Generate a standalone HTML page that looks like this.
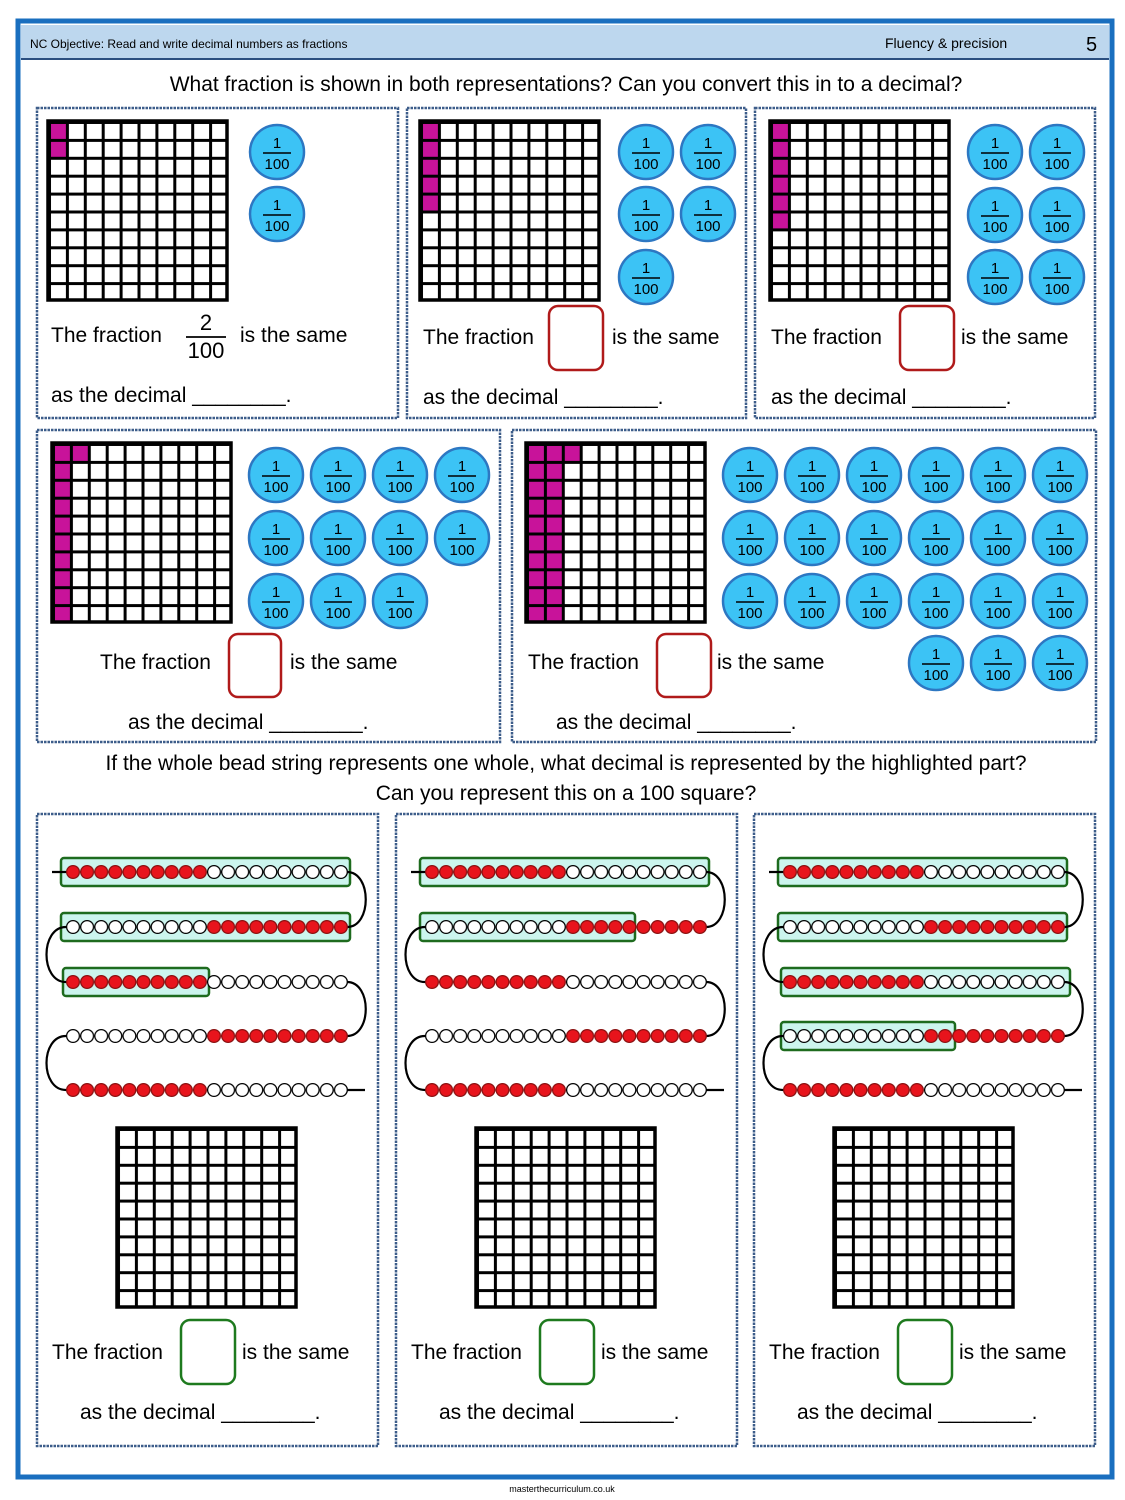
<!DOCTYPE html>
<html><head><meta charset="utf-8"><style>
html,body{margin:0;padding:0;background:#fff}
svg{display:block}
text{font-family:"Liberation Sans",sans-serif}
</style></head><body>
<svg width="1125" height="1500" viewBox="0 0 1125 1500" xmlns="http://www.w3.org/2000/svg">
<defs>
<pattern id="gp" width="17.9" height="17.9" patternUnits="userSpaceOnUse"><path d="M0 0H17.9M0 0V17.9" stroke="#000" stroke-width="6" fill="none"/></pattern>
<pattern id="rb" width="14.1" height="20" patternUnits="userSpaceOnUse" y="-10"><circle cx="7" cy="10" r="6.4" fill="#e8141c" stroke="#8a1010" stroke-width="1.3"/></pattern>
<pattern id="wb" width="14.1" height="20" patternUnits="userSpaceOnUse" y="-10"><circle cx="7" cy="10" r="6.4" fill="#fff" stroke="#000" stroke-width="1.3"/></pattern>
<g id="c"><circle r="27" fill="#3cc3f5" stroke="#2d77c2" stroke-width="2.5"/><text y="-4" font-size="15" text-anchor="middle">1</text><line x1="-14" x2="14" y1="1" y2="1" stroke="#000" stroke-width="1.6"/><text y="17" font-size="15" text-anchor="middle">100</text></g>
<g id="grid"><rect width="179" height="179" fill="url(#gp)"/><rect width="179" height="179" fill="none" stroke="#000" stroke-width="3.5"/></g>
</defs>
<rect x="18" y="21" width="1094" height="1456" fill="none" stroke="#1a6fbf" stroke-width="5"/>
<rect x="21" y="25" width="1088" height="34" fill="#bdd7ee"/>
<line x1="21" y1="59" x2="1109" y2="59" stroke="#2b4f80" stroke-width="2"/>
<text x="30" y="48" font-size="12">NC Objective: Read and write decimal numbers as fractions</text>
<text x="885" y="48" font-size="14">Fluency &amp; precision</text>
<text x="1086" y="51" font-size="20">5</text>
<text x="566" y="91" font-size="21" text-anchor="middle">What fraction is shown in both representations? Can you convert this in to a decimal?</text>
<g fill="none" stroke="#3d5d8a" stroke-width="2.5" stroke-dasharray="2.5 1">
<rect x="37" y="108" width="361" height="310"/><rect x="407" y="108" width="339" height="310"/><rect x="755" y="108" width="340" height="310"/>
<rect x="37" y="430" width="463" height="312"/><rect x="512" y="430" width="584" height="312"/>
<rect x="37" y="814" width="341" height="632"/><rect x="396" y="814" width="341" height="632"/><rect x="754" y="814" width="341" height="632"/>
</g>
<g fill="#c8139a">
<rect x="48" y="121" width="18" height="36"/>
<rect x="420" y="121" width="18" height="90"/>
<rect x="770" y="121" width="18" height="108"/>
<rect x="52" y="443" width="18" height="179"/><rect x="70" y="443" width="18" height="18"/>
<rect x="526" y="443" width="36" height="179"/><rect x="562" y="443" width="18" height="18"/>
</g>
<use href="#grid" x="48" y="121"/><use href="#grid" x="420" y="121"/><use href="#grid" x="770" y="121"/>
<use href="#grid" x="52" y="443"/><use href="#grid" x="526" y="443"/>
<use href="#grid" x="117" y="1128"/><use href="#grid" x="476" y="1128"/><use href="#grid" x="834" y="1128"/>
<use href="#c" x="277" y="152"/><use href="#c" x="277" y="214"/>
<use href="#c" x="646" y="152"/><use href="#c" x="708" y="152"/><use href="#c" x="646" y="214"/><use href="#c" x="708" y="214"/><use href="#c" x="646" y="277"/>
<use href="#c" x="995" y="152"/><use href="#c" x="1057" y="152"/><use href="#c" x="995" y="215"/><use href="#c" x="1057" y="215"/><use href="#c" x="995" y="277"/><use href="#c" x="1057" y="277"/>
<use href="#c" x="276" y="475"/><use href="#c" x="338" y="475"/><use href="#c" x="400" y="475"/><use href="#c" x="462" y="475"/>
<use href="#c" x="276" y="538"/><use href="#c" x="338" y="538"/><use href="#c" x="400" y="538"/><use href="#c" x="462" y="538"/>
<use href="#c" x="276" y="601"/><use href="#c" x="338" y="601"/><use href="#c" x="400" y="601"/>
<use href="#c" x="750" y="475"/><use href="#c" x="812" y="475"/><use href="#c" x="874" y="475"/><use href="#c" x="936" y="475"/><use href="#c" x="998" y="475"/><use href="#c" x="1060" y="475"/>
<use href="#c" x="750" y="538"/><use href="#c" x="812" y="538"/><use href="#c" x="874" y="538"/><use href="#c" x="936" y="538"/><use href="#c" x="998" y="538"/><use href="#c" x="1060" y="538"/>
<use href="#c" x="750" y="601"/><use href="#c" x="812" y="601"/><use href="#c" x="874" y="601"/><use href="#c" x="936" y="601"/><use href="#c" x="998" y="601"/><use href="#c" x="1060" y="601"/>
<use href="#c" x="936" y="663"/><use href="#c" x="998" y="663"/><use href="#c" x="1060" y="663"/>
<g font-size="21">
<text x="51" y="342">The fraction</text><text x="206" y="330" font-size="22" text-anchor="middle">2</text><line x1="186" x2="226" y1="337" y2="337" stroke="#000" stroke-width="1.8"/><text x="206" y="358" font-size="22" text-anchor="middle">100</text><text x="240" y="342">is the same</text>
<text x="51" y="402">as the decimal ________.</text>
<text x="423" y="344">The fraction</text><text x="612" y="344">is the same</text><text x="423" y="404">as the decimal ________.</text>
<text x="771" y="344">The fraction</text><text x="961" y="344">is the same</text><text x="771" y="404">as the decimal ________.</text>
<text x="100" y="669">The fraction</text><text x="290" y="669">is the same</text><text x="128" y="729">as the decimal ________.</text>
<text x="528" y="669">The fraction</text><text x="717" y="669">is the same</text><text x="556" y="729">as the decimal ________.</text>
<text x="566" y="770" text-anchor="middle">If the whole bead string represents one whole, what decimal is represented by the highlighted part?</text>
<text x="566" y="800" text-anchor="middle">Can you represent this on a 100 square?</text>
<text x="52" y="1359">The fraction</text><text x="242" y="1359">is the same</text><text x="80" y="1419">as the decimal ________.</text>
<text x="411" y="1359">The fraction</text><text x="601" y="1359">is the same</text><text x="439" y="1419">as the decimal ________.</text>
<text x="769" y="1359">The fraction</text><text x="959" y="1359">is the same</text><text x="797" y="1419">as the decimal ________.</text>
</g>
<g fill="none" stroke="#b01a1a" stroke-width="2.5">
<rect x="549" y="306" width="54" height="64" rx="9"/><rect x="900" y="306" width="54" height="64" rx="9"/>
<rect x="229" y="634" width="52" height="63" rx="9"/><rect x="657" y="634" width="54" height="63" rx="9"/>
</g>
<g fill="none" stroke="#1e7a1e" stroke-width="2.5">
<rect x="181" y="1320" width="54" height="64" rx="9"/><rect x="540" y="1320" width="54" height="64" rx="9"/><rect x="898" y="1320" width="54" height="64" rx="9"/>
</g>
<g fill="#ccf5ee" stroke="#1e6b1e" stroke-width="2.5">
<rect x="61" y="858" width="289" height="28" rx="3"/><rect x="61" y="913" width="289" height="28" rx="3"/><rect x="63" y="968" width="146" height="28" rx="3"/>
<rect x="420" y="858" width="289" height="28" rx="3"/><rect x="420" y="913" width="215" height="28" rx="3"/>
<rect x="778" y="858" width="289" height="28" rx="3"/><rect x="778" y="913" width="289" height="28" rx="3"/><rect x="781" y="968" width="289" height="28" rx="3"/><rect x="781" y="1022" width="174" height="28" rx="3"/>
</g>
<g fill="none" stroke="#000" stroke-width="2.2">
<path d="M52 872H66M347 872C372 872 372 927 347 927M66 927C40 927 40 982 66 982M347 982C372 982 372 1036 347 1036M66 1036C40 1036 40 1090 66 1090M347 1090H365"/>
<path d="M411 872H425M706 872C731 872 731 927 706 927M425 927C399 927 399 982 425 982M706 982C731 982 731 1036 706 1036M425 1036C399 1036 399 1090 425 1090M706 1090H724"/>
<path d="M769 872H783M1064 872C1089 872 1089 927 1064 927M783 927C757 927 757 982 783 982M1064 982C1089 982 1089 1036 1064 1036M783 1036C757 1036 757 1090 783 1090M1064 1090H1082"/>
</g>
<g>
<g transform="translate(66,872)"><rect width="141" height="20" y="-10" fill="url(#rb)"/><rect x="141" width="141" height="20" y="-10" fill="url(#wb)"/></g>
<g transform="translate(66,927)"><rect width="141" height="20" y="-10" fill="url(#wb)"/><rect x="141" width="141" height="20" y="-10" fill="url(#rb)"/></g>
<g transform="translate(66,982)"><rect width="141" height="20" y="-10" fill="url(#rb)"/><rect x="141" width="141" height="20" y="-10" fill="url(#wb)"/></g>
<g transform="translate(66,1036)"><rect width="141" height="20" y="-10" fill="url(#wb)"/><rect x="141" width="141" height="20" y="-10" fill="url(#rb)"/></g>
<g transform="translate(66,1090)"><rect width="141" height="20" y="-10" fill="url(#rb)"/><rect x="141" width="141" height="20" y="-10" fill="url(#wb)"/></g>
<g transform="translate(425,872)"><rect width="141" height="20" y="-10" fill="url(#rb)"/><rect x="141" width="141" height="20" y="-10" fill="url(#wb)"/></g>
<g transform="translate(425,927)"><rect width="141" height="20" y="-10" fill="url(#wb)"/><rect x="141" width="141" height="20" y="-10" fill="url(#rb)"/></g>
<g transform="translate(425,982)"><rect width="141" height="20" y="-10" fill="url(#rb)"/><rect x="141" width="141" height="20" y="-10" fill="url(#wb)"/></g>
<g transform="translate(425,1036)"><rect width="141" height="20" y="-10" fill="url(#wb)"/><rect x="141" width="141" height="20" y="-10" fill="url(#rb)"/></g>
<g transform="translate(425,1090)"><rect width="141" height="20" y="-10" fill="url(#rb)"/><rect x="141" width="141" height="20" y="-10" fill="url(#wb)"/></g>
<g transform="translate(783,872)"><rect width="141" height="20" y="-10" fill="url(#rb)"/><rect x="141" width="141" height="20" y="-10" fill="url(#wb)"/></g>
<g transform="translate(783,927)"><rect width="141" height="20" y="-10" fill="url(#wb)"/><rect x="141" width="141" height="20" y="-10" fill="url(#rb)"/></g>
<g transform="translate(783,982)"><rect width="141" height="20" y="-10" fill="url(#rb)"/><rect x="141" width="141" height="20" y="-10" fill="url(#wb)"/></g>
<g transform="translate(783,1036)"><rect width="141" height="20" y="-10" fill="url(#wb)"/><rect x="141" width="141" height="20" y="-10" fill="url(#rb)"/></g>
<g transform="translate(783,1090)"><rect width="141" height="20" y="-10" fill="url(#rb)"/><rect x="141" width="141" height="20" y="-10" fill="url(#wb)"/></g>
</g>
<text x="562" y="1492" font-size="9" text-anchor="middle">masterthecurriculum.co.uk</text>
</svg>
</body></html>
